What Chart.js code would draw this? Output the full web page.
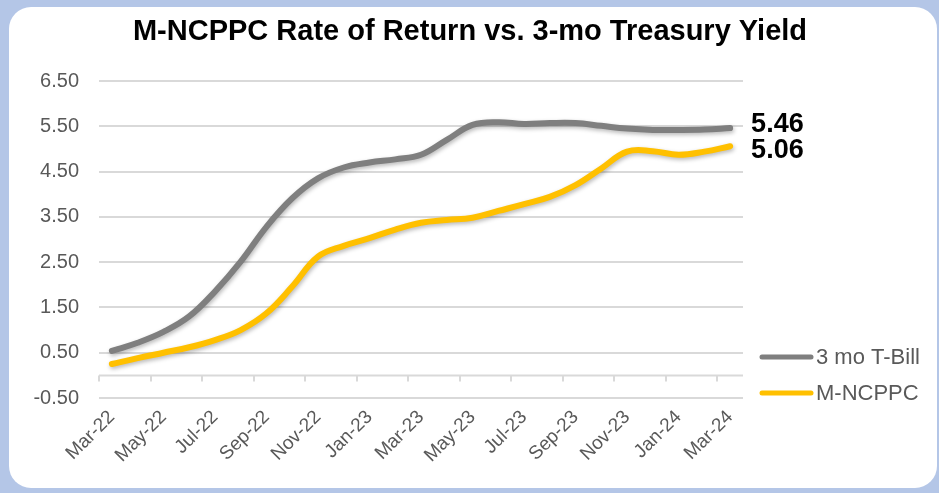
<!DOCTYPE html>
<html>
<head>
<meta charset="utf-8">
<title>M-NCPPC Rate of Return vs. 3-mo Treasury Yield</title>
<script src="https://cdn.jsdelivr.net/npm/chart.js@4.4.1/dist/chart.umd.min.js"></script>
<style>
    html, body { margin: 0; padding: 0; }
    body {
        width: 939px;
        height: 493px;
        background: #b4c6e7;
        position: relative;
        overflow: hidden;
    }
    .card {
        position: absolute;
        left: 9px;
        top: 7px;
        width: 928px;
        height: 481px;
        background: #ffffff;
        border-radius: 22px;
    }
    .chart-wrap {
        position: absolute;
        left: 0;
        top: 0;
        width: 939px;
        height: 493px;
    }
</style>
</head>
<body>
<div class="card"></div>
<div class="chart-wrap"><canvas id="yieldChart"></canvas></div>
<script>
// --- DATA ---
const months = [
    'Mar-22', 'Apr-22', 'May-22', 'Jun-22', 'Jul-22', 'Aug-22', 'Sep-22', 'Oct-22', 'Nov-22',
    'Dec-22', 'Jan-23', 'Feb-23', 'Mar-23', 'Apr-23', 'May-23', 'Jun-23', 'Jul-23', 'Aug-23',
    'Sep-23', 'Oct-23', 'Nov-23', 'Dec-23', 'Jan-24', 'Feb-24', 'Mar-24'
];
const tBill = [0.54, 0.72, 0.96, 1.30, 1.85, 2.51, 3.28, 3.91, 4.35, 4.59, 4.70, 4.77, 4.87,
    5.20, 5.53, 5.59, 5.55, 5.57, 5.57, 5.51, 5.45, 5.42, 5.42, 5.43, 5.46];
const mncppc = [0.25, 0.38, 0.50, 0.62, 0.78, 1.00, 1.37, 1.96, 2.62, 2.86, 3.03, 3.22, 3.37,
    3.43, 3.48, 3.63, 3.78, 3.94, 4.20, 4.57, 4.94, 4.95, 4.87, 4.94, 5.06];
const seriesNames = ['3 mo T-Bill', 'M-NCPPC'];
const yTicks = [-0.5, 0.5, 1.5, 2.5, 3.5, 4.5, 5.5, 6.5];
const chartTitle = 'M-NCPPC Rate of Return vs. 3-mo Treasury Yield';

const GRAY = '#7f7f7f';
const GOLD = '#ffc000';
const FONT = "'Liberation Sans', Arial, sans-serif";

document.addEventListener('DOMContentLoaded', () => {
    const canvas = document.getElementById('yieldChart');

    // --- soft shadow under the lines, like the Excel original ---
    const lineShadow = {
        id: 'lineShadow',
        beforeDatasetDraw(chart) {
            const ctx = chart.ctx;
            ctx.save();
            ctx.shadowColor = 'rgba(0, 0, 0, 0.28)';
            ctx.shadowBlur = 4;
            ctx.shadowOffsetX = 1;
            ctx.shadowOffsetY = 2;
        },
        afterDatasetDraw(chart) {
            chart.ctx.restore();
        }
    };

    // --- horizontal axis sits at zero, with tick marks every 2 months ---
    const zeroAxis = {
        id: 'zeroAxis',
        beforeDatasetsDraw(chart) {
            const { ctx, chartArea, scales: { x, y } } = chart;
            const y0 = Math.round(y.getPixelForValue(0)) + 0.5;
            const half = (x.getPixelForValue(1) - x.getPixelForValue(0)) / 2;
            ctx.save();
            ctx.strokeStyle = '#d9d9d9';
            ctx.lineWidth = 2;
            ctx.beginPath();
            ctx.moveTo(chartArea.left, y0);
            ctx.lineTo(chartArea.right, y0);
            for (let i = 0; i < months.length; i += 2) {
                const tx = Math.round(x.getPixelForValue(i) - half);
                ctx.moveTo(tx, y0);
                ctx.lineTo(tx, y0 + 6);
            }
            ctx.stroke();
            ctx.restore();
        }
    };

    // --- title across the whole card, end-of-line values, legend on the right ---
    const sideText = {
        id: 'sideText',
        afterDraw(chart) {
            const { ctx, chartArea } = chart;
            ctx.save();
            ctx.fillStyle = '#000000';
            ctx.textAlign = 'center';
            ctx.textBaseline = 'middle';
            ctx.font = 'bold 29px ' + FONT;
            ctx.fillText(chartTitle, 470, 32);

            ctx.font = 'bold 27px ' + FONT;
            ctx.textAlign = 'left';
            const nudge = [-4, 4];
            chart.data.datasets.forEach((ds, i) => {
                const pts = chart.getDatasetMeta(i).data;
                const last = pts[pts.length - 1];
                ctx.fillText(ds.data[ds.data.length - 1].toFixed(2), last.x + 21, last.y + nudge[i]);
            });

            const lx = chartArea.right + 17;
            const rows = [chartArea.bottom - 41, chartArea.bottom - 5];
            ctx.font = '22px ' + FONT;
            ctx.fillStyle = '#595959';
            ctx.lineCap = 'round';
            chart.data.datasets.forEach((ds, i) => {
                ctx.strokeStyle = ds.borderColor;
                ctx.lineWidth = 5;
                ctx.beginPath();
                ctx.moveTo(lx + 2, rows[i]);
                ctx.lineTo(lx + 51, rows[i]);
                ctx.stroke();
                ctx.fillText(ds.label, lx + 56, rows[i] + 1);
            });
            ctx.restore();
        }
    };

    new Chart(canvas, {
        type: 'line',
        data: {
            labels: months,
            datasets: [
                {
                    label: seriesNames[0],
                    data: tBill,
                    borderColor: GRAY,
                    backgroundColor: GRAY,
                    borderWidth: 6,
                    borderCapStyle: 'round',
                    tension: 0.4,
                    pointRadius: 0
                },
                {
                    label: seriesNames[1],
                    data: mncppc,
                    borderColor: GOLD,
                    backgroundColor: GOLD,
                    borderWidth: 6,
                    borderCapStyle: 'round',
                    tension: 0.4,
                    pointRadius: 0
                }
            ]
        },
        options: {
            responsive: true,
            maintainAspectRatio: false,
            animation: false,
            layout: { padding: { left: 0, right: 196, top: 81, bottom: 0 } },
            plugins: {
                legend: { display: false },
                tooltip: { enabled: false },
                title: { display: false }
            },
            scales: {
                x: {
                    offset: true,
                    grid: { display: false },
                    border: { display: false },
                    ticks: {
                        autoSkip: false,
                        maxRotation: 45,
                        minRotation: 45,
                        padding: 0,
                        color: '#595959',
                        font: { family: FONT, size: 19 },
                        callback: (v, i) => (i % 2 === 0 ? months[i] : '')
                    },
                    afterFit: (scale) => { scale.height = 95; }
                },
                y: {
                    min: yTicks[0],
                    max: yTicks[yTicks.length - 1],
                    afterBuildTicks: (scale) => { scale.ticks = yTicks.map(v => ({ value: v })); },
                    grid: { color: '#d9d9d9', lineWidth: 2, drawTicks: false },
                    border: { display: false },
                    ticks: {
                        padding: 20,
                        color: '#595959',
                        font: { family: FONT, size: 20 },
                        callback: (v) => Number(v).toFixed(2)
                    },
                    afterFit: (scale) => { scale.width = 99; }
                }
            }
        },
        plugins: [zeroAxis, lineShadow, sideText]
    });
});
</script>
</body>
</html>
